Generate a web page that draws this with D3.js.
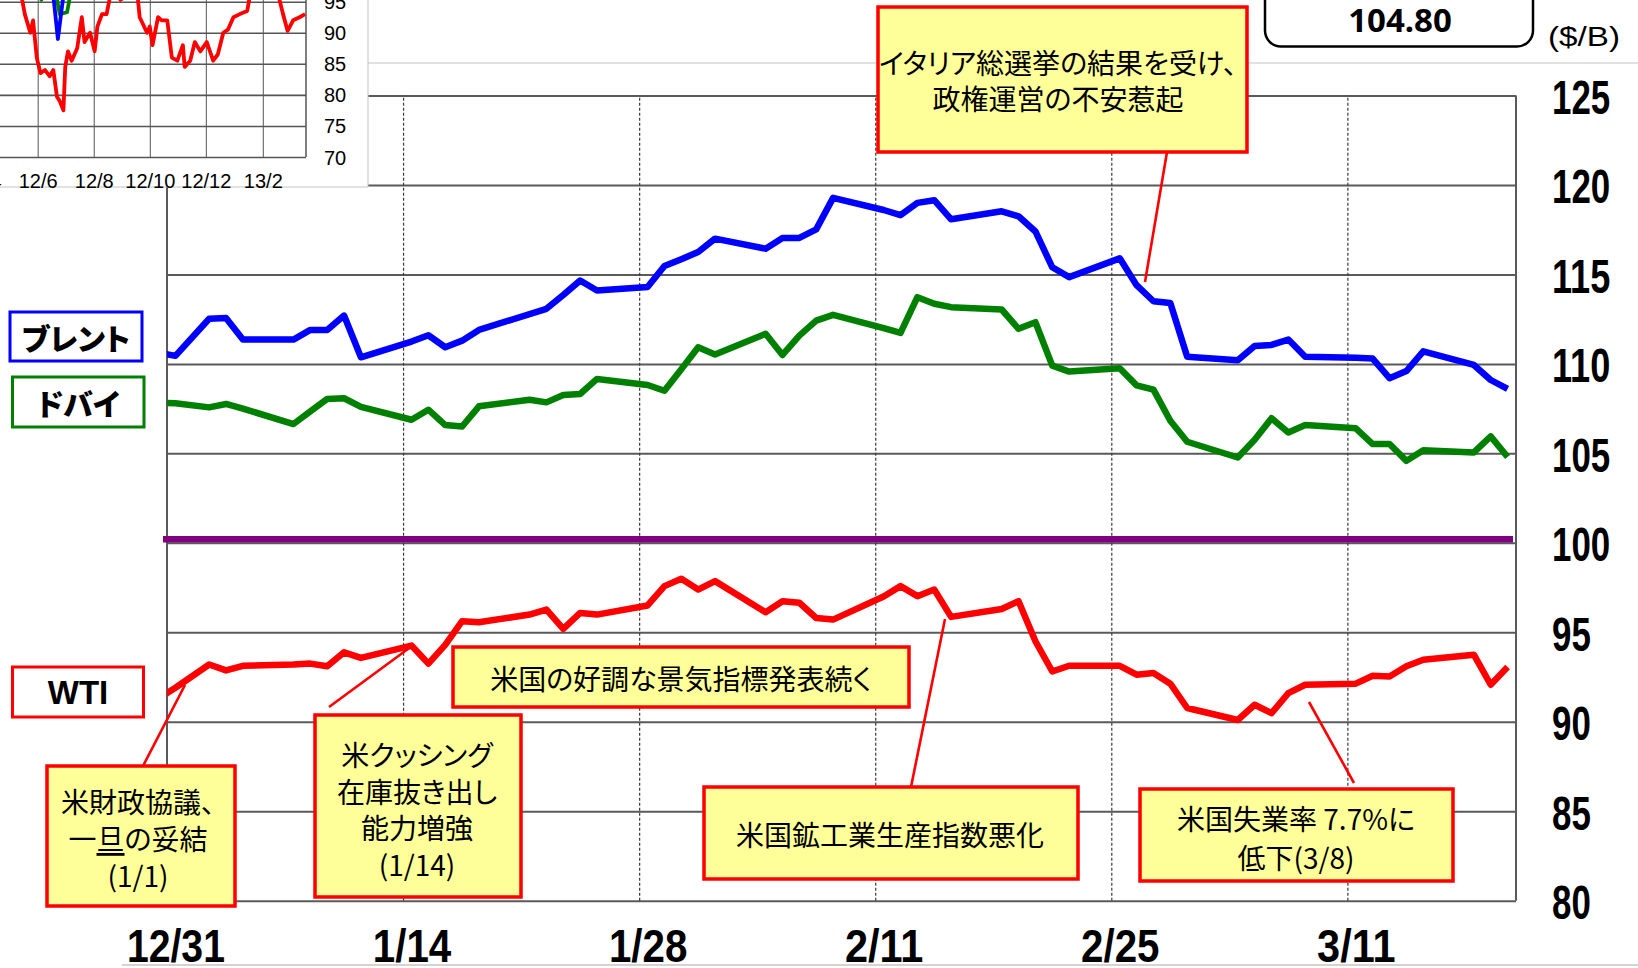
<!DOCTYPE html>
<html>
<head>
<meta charset="utf-8">
<script src="https://cdn.jsdelivr.net/npm/d3@7"></script>
<style>
body { margin: 0; background: #fff; overflow: hidden; }
svg { display: block; }
.jp { font-family: "Noto Sans CJK JP", "Noto Sans CJK SC", sans-serif; font-feature-settings: "palt"; }
.num { font-family: "Liberation Sans Narrow", "Liberation Sans", sans-serif; font-weight: bold; }
</style>
</head>
<body>
<svg id="chart" width="1638" height="968"></svg>
<script>
// ---- main chart data (daily closes, $/B) ----
const brentDates = ["2012-12-28","2012-12-31","2013-01-02","2013-01-03","2013-01-04","2013-01-07","2013-01-08","2013-01-09","2013-01-10","2013-01-11",
  "2013-01-14","2013-01-15","2013-01-16","2013-01-17","2013-01-18","2013-01-22","2013-01-23","2013-01-24","2013-01-25",
  "2013-01-28","2013-01-29","2013-01-30","2013-01-31","2013-02-01","2013-02-04","2013-02-05","2013-02-06","2013-02-07","2013-02-08",
  "2013-02-11","2013-02-12","2013-02-13","2013-02-14","2013-02-15","2013-02-18","2013-02-19","2013-02-20","2013-02-21","2013-02-22",
  "2013-02-25","2013-02-26","2013-02-27","2013-02-28","2013-03-01","2013-03-04","2013-03-05","2013-03-06","2013-03-07","2013-03-08",
  "2013-03-11","2013-03-12","2013-03-13","2013-03-14","2013-03-15","2013-03-18","2013-03-19","2013-03-20"];
const brentValues = [111.0,110.45,112.52,112.57,111.36,111.36,111.9,111.9,112.7,110.37,
  111.25,111.6,110.93,111.3,111.9,113.08,113.85,114.66,114.1,
  114.3,115.47,115.85,116.25,117.0,116.44,117.04,117.04,117.52,119.28,
  118.6,118.31,119.0,119.15,118.08,118.53,118.25,117.4,115.4,114.85,
  115.9,114.4,113.5,113.4,110.4,110.2,111.0,111.06,111.36,110.4,
  110.35,110.3,109.2,109.6,110.7,109.94,109.1,108.6];

const dubaiDates = ["2012-12-28","2012-12-31","2013-01-02","2013-01-03","2013-01-04","2013-01-07","2013-01-08","2013-01-09","2013-01-10","2013-01-11",
  "2013-01-14","2013-01-15","2013-01-16","2013-01-17","2013-01-18","2013-01-21","2013-01-22","2013-01-23","2013-01-24","2013-01-25",
  "2013-01-28","2013-01-29","2013-01-30","2013-01-31","2013-02-01","2013-02-04","2013-02-05","2013-02-06","2013-02-07","2013-02-08",
  "2013-02-11","2013-02-12","2013-02-13","2013-02-14","2013-02-15","2013-02-18","2013-02-19","2013-02-20","2013-02-21","2013-02-22",
  "2013-02-25","2013-02-26","2013-02-27","2013-02-28","2013-03-01","2013-03-04","2013-03-05","2013-03-06","2013-03-07","2013-03-08",
  "2013-03-11","2013-03-12","2013-03-13","2013-03-14","2013-03-15","2013-03-18","2013-03-19","2013-03-20"];
const dubaiValues = [107.9,107.8,107.57,107.76,107.5,106.64,107.35,108.04,108.08,107.6,
  106.88,107.44,106.58,106.5,107.63,108.0,107.85,108.26,108.32,109.16,
  108.82,108.5,109.7,110.93,110.53,111.68,110.5,111.58,112.42,112.74,
  112.0,111.73,113.73,113.36,113.17,113.04,111.96,112.33,109.9,109.57,
  109.76,108.8,108.56,106.82,105.65,104.77,105.76,106.96,106.17,106.58,
  106.4,105.52,105.52,104.58,105.18,105.05,105.95,104.80];

const wtiDates = dubaiDates;
const wtiValues = [90.1,91.9,93.2,92.87,93.13,93.2,93.25,93.1,93.88,93.57,
  94.26,93.25,94.3,95.62,95.56,95.99,96.27,95.19,96.08,95.99,
  96.5,97.58,97.99,97.39,97.86,96.12,96.74,96.65,95.8,95.71,
  97.0,97.58,97.02,97.39,95.86,96.3,96.74,94.5,92.81,93.13,
  93.13,92.63,92.73,92.13,90.77,90.1,90.95,90.48,91.6,92.07,
  92.13,92.57,92.53,93.1,93.47,93.75,92.07,93.06];

const xGridDates = ["2013-01-14","2013-01-28","2013-02-11","2013-02-25","2013-03-11"];
const xLabelDates = ["2012-12-31","2013-01-14","2013-01-28","2013-02-11","2013-02-25","2013-03-11"];
const xLabels = ["12/31","1/14","1/28","2/11","2/25","3/11"];
const yTicks = [80,85,90,95,100,105,110,115,120,125];

// ---- small long-range inset (top left, partly cut off) ----
const insetWtiDates = ["2012-04-21","2012-05-04","2012-05-13","2012-05-18","2012-05-24","2012-05-27","2012-05-31","2012-06-04","2012-06-09","2012-06-14",
  "2012-06-18","2012-06-22","2012-06-25","2012-06-29","2012-07-01","2012-07-04","2012-07-08","2012-07-14","2012-07-19","2012-07-22",
  "2012-07-28","2012-08-02","2012-08-05","2012-08-10","2012-08-15","2012-08-19","2012-08-24","2012-08-30","2012-09-06","2012-09-12",
  "2012-09-17","2012-09-20","2012-09-28","2012-10-01","2012-10-04","2012-10-10","2012-10-14","2012-10-20","2012-10-25","2012-10-31",
  "2012-11-06","2012-11-08","2012-11-14","2012-11-19","2012-11-25","2012-12-02","2012-12-09","2012-12-14","2012-12-20","2012-12-25",
  "2012-12-31","2013-01-07","2013-01-15","2013-01-18","2013-01-23","2013-02-07","2013-02-18","2013-02-23","2013-02-28","2013-03-06",
  "2013-03-13","2013-03-19"];
const insetWtiValues = [103,101,97,93,90,92,86,83.5,84,83,
  84,79.7,79,77.5,84.5,87,85.5,87.5,92.5,88.5,
  90,87,91,93,93,96,97,95.3,96,97,
  97,92.5,90,91,88,92.5,92,92,86,85.5,
  88,84.5,85.5,88.5,87,88.5,85.5,86.5,90,90.5,
  92.5,93,93.5,96,97,98,96,93,90.3,92,
  92.5,93];
const insetBrentDates = ["2012-06-09","2012-06-18","2012-06-23","2012-06-29","2012-07-06"];
const insetBrentValues = [99,96,89,96,100];
const insetDubaiDates = ["2012-05-24","2012-06-05","2012-06-10","2012-06-20","2012-06-25","2012-07-03","2012-07-07","2012-07-17"];
const insetDubaiValues = [100,95.3,99,97,93,93.3,96.5,100];
const insetTickDates = ["2012-04-01","2012-06-01","2012-08-01","2012-10-01","2012-12-01","2013-02-01"];
const insetTickLabels = ["12/4","12/6","12/8","12/10","12/12","13/2"];
const insetYTicks = [70,75,80,85,90,95];

// ---- texts ----
const latestValue = "104.80";
const unitLabel = "($/B)";
const legendLabels = ["ブレント", "ドバイ", "WTI"];
const noteTexts = [
  ["イタリア総選挙の結果を受け、", "政権運営の不安惹起"],
  ["米国の好調な景気指標発表続く"],
  ["米財政協議、", "一旦の妥結", "(1/1)"],
  ["米クッシング", "在庫抜き出し", "能力増強", "(1/14)"],
  ["米国鉱工業生産指数悪化"],
  ["米国失業率 7.7%に", "低下(3/8)"]
];

const parse = d3.utcParse("%Y-%m-%d");
const noon = s => d3.utcHour.offset(parse(s), 12);
const svg = d3.select("#chart");

// scales: each day is a slot, points sit in the middle of it
const pLeft = 167, pRight = 1516, pTop = 95.5, pBottom = 900.7;
const x = d3.scaleUtc().domain([parse("2012-12-31"), parse("2013-03-21")]).range([pLeft, pRight]);
const y = d3.scaleLinear().domain([80, 125]).range([pBottom, pTop]);

// page rules
svg.append("line").attr("x1", 368).attr("x2", 1638).attr("y1", 63).attr("y2", 63)
  .attr("stroke", "#c4c4c4").attr("stroke-width", 1.2);
svg.append("line").attr("x1", 122).attr("x2", 1638).attr("y1", 965).attr("y2", 965)
  .attr("stroke", "#c4c4c4").attr("stroke-width", 1.5);

// horizontal grid
svg.append("g").attr("transform", `translate(${pLeft},0)`)
  .call(d3.axisLeft(y).tickValues(yTicks).tickSize(-(pRight - pLeft)).tickFormat(""))
  .call(g => g.select(".domain").remove())
  .call(g => g.selectAll("line").attr("stroke", "#5a5a5a").attr("stroke-width", 2));

// vertical dashed grid
svg.append("g").attr("transform", `translate(0,${pBottom})`)
  .call(d3.axisBottom(x).tickValues(xGridDates.map(parse)).tickSize(-(pBottom - pTop)).tickFormat(""))
  .call(g => g.select(".domain").remove())
  .call(g => g.selectAll("line").attr("stroke", "#3a3a3a").attr("stroke-width", 1.2).attr("stroke-dasharray", "3,2"));

// frame sides
svg.append("line").attr("x1", pLeft).attr("x2", pLeft).attr("y1", pTop).attr("y2", pBottom).attr("stroke", "#5a5a5a").attr("stroke-width", 2);
svg.append("line").attr("x1", pRight).attr("x2", pRight).attr("y1", pTop).attr("y2", pBottom).attr("stroke", "#5a5a5a").attr("stroke-width", 2);

// 100 $ line
svg.append("line").attr("x1", pLeft - 4).attr("x2", pRight - 3).attr("y1", y(100) - 3.5).attr("y2", y(100) - 3.5)
  .attr("stroke", "#800080").attr("stroke-width", 6.5);

// series
svg.append("clipPath").attr("id", "plotClip").append("rect")
  .attr("x", pLeft).attr("y", pTop).attr("width", pRight - pLeft).attr("height", pBottom - pTop);
const line = d3.line().x(d => x(d.date)).y(d => y(d.v));
const series = [
  { dates: brentDates, values: brentValues, color: "#0000ff" },
  { dates: dubaiDates, values: dubaiValues, color: "#008000" },
  { dates: wtiDates, values: wtiValues, color: "#ff0000" }
];
series.forEach(s => {
  const pts = s.dates.map((d, i) => ({ date: noon(d), v: s.values[i] }));
  svg.append("path").datum(pts).attr("d", line).attr("clip-path", "url(#plotClip)")
    .attr("fill", "none").attr("stroke", s.color).attr("stroke-width", 6.5)
    .attr("stroke-linejoin", "round");
});

// y labels (right side)
svg.append("g").attr("transform", "translate(1552,0)")
  .call(d3.axisRight(y).tickValues(yTicks).tickSize(0).tickPadding(0))
  .call(g => g.select(".domain").remove())
  .call(g => g.selectAll("text").attr("class", "num").attr("font-size", 48).attr("fill", "#000")
    .attr("text-anchor", "start").attr("dy", null).attr("y", 18)
    .attr("textLength", function () { return this.textContent.length * 19.4; })
    .attr("lengthAdjust", "spacingAndGlyphs"));

// x labels
svg.append("g")
  .call(d3.axisBottom(x).tickValues(xLabelDates.map(noon)).tickSize(0).tickFormat((d, i) => xLabels[i]))
  .call(g => g.select(".domain").remove())
  .call(g => g.selectAll("text").attr("class", "num").attr("font-size", 46).attr("fill", "#000")
    .attr("dy", null).attr("y", 962)
    .attr("textLength", function () { return this.textContent.length * 19.6; })
    .attr("lengthAdjust", "spacingAndGlyphs"));

// ---- inset ----
const inset = svg.append("g");
inset.append("rect").attr("x", -2).attr("y", -2).attr("width", 370).attr("height", 189).attr("fill", "#fff");
inset.append("line").attr("x1", 368).attr("x2", 368).attr("y1", 0).attr("y2", 187).attr("stroke", "#c4c4c4");
inset.append("line").attr("x1", 0).attr("x2", 368).attr("y1", 187).attr("y2", 187).attr("stroke", "#c4c4c4");
const xi = d3.scaleUtc().domain([parse("2012-04-21"), parse("2013-03-20")]).range([0, 306]);
const yi = d3.scaleLinear().domain([70, 95]).range([157, 1.7]);
inset.append("g")
  .call(d3.axisLeft(yi).tickValues(insetYTicks).tickSize(-306).tickFormat(""))
  .call(g => g.select(".domain").remove())
  .call(g => g.selectAll("line").attr("stroke", "#555").attr("stroke-width", 1.6));
inset.append("g").attr("transform", "translate(0,157)")
  .call(d3.axisBottom(xi).tickValues(insetTickDates.map(parse)).tickSize(-160).tickFormat(""))
  .call(g => g.select(".domain").remove())
  .call(g => g.selectAll("line").attr("stroke", "#555").attr("stroke-width", 1));
inset.append("line").attr("x1", 306).attr("x2", 306).attr("y1", 0).attr("y2", 157).attr("stroke", "#555").attr("stroke-width", 1.5);
inset.append("clipPath").attr("id", "insetClip").append("rect").attr("x", 0).attr("y", 0).attr("width", 306).attr("height", 157);
const lineI = d3.line().x(d => xi(d.date)).y(d => yi(d.v));
[
  { dates: insetDubaiDates, values: insetDubaiValues, color: "#008000" },
  { dates: insetBrentDates, values: insetBrentValues, color: "#0000ff" },
  { dates: insetWtiDates, values: insetWtiValues, color: "#ff0000" }
].forEach(s => {
  const pts = s.dates.map((d, i) => ({ date: parse(d), v: s.values[i] }));
  inset.append("path").datum(pts).attr("d", lineI).attr("clip-path", "url(#insetClip)")
    .attr("fill", "none").attr("stroke", s.color).attr("stroke-width", 3.8).attr("stroke-linejoin", "round");
});
inset.append("g").attr("transform", "translate(324,0)")
  .call(d3.axisRight(yi).tickValues(insetYTicks).tickSize(0).tickPadding(0))
  .call(g => g.select(".domain").remove())
  .call(g => g.selectAll("text").attr("font-family", "Liberation Sans Narrow, Liberation Sans, sans-serif")
    .attr("font-size", 20).attr("fill", "#000").attr("text-anchor", "start").attr("dy", "0.35em"));
inset.append("g")
  .call(d3.axisBottom(xi).tickValues(insetTickDates.map(parse)).tickSize(0).tickFormat((d, i) => insetTickLabels[i]))
  .call(g => g.select(".domain").remove())
  .call(g => g.selectAll("text").attr("font-family", "Liberation Sans Narrow, Liberation Sans, sans-serif")
    .attr("font-size", 20).attr("fill", "#000").attr("dy", null).attr("y", 188));

// ---- latest value box & unit ----
svg.append("rect").attr("x", 1265).attr("y", -20).attr("width", 268).attr("height", 66.5).attr("rx", 16)
  .attr("fill", "#fff").attr("stroke", "#000").attr("stroke-width", 2.5);
svg.append("text").attr("x", 1400).attr("y", 32).attr("text-anchor", "middle")
  .attr("font-family", "Noto Sans, sans-serif").attr("font-weight", "bold").attr("font-size", 33)
  .text(latestValue);
svg.append("text").attr("x", 1548).attr("y", 46).attr("font-family", "Liberation Sans, sans-serif")
  .attr("font-size", 28).attr("textLength", 72).attr("lengthAdjust", "spacingAndGlyphs").text(unitLabel);

// ---- legend boxes ----
const legendBoxes = [
  { x: 10, y: 312, w: 132, h: 49, color: "#0000ff" },
  { x: 12.5, y: 377, w: 131.5, h: 50, color: "#008000" },
  { x: 12.5, y: 667, w: 131, h: 50, color: "#ff0000" }
];
legendBoxes.forEach((b, i) => {
  svg.append("rect").attr("x", b.x).attr("y", b.y).attr("width", b.w).attr("height", b.h)
    .attr("fill", "#fff").attr("stroke", b.color).attr("stroke-width", 3);
  const t = svg.append("text").attr("x", b.x + b.w / 2).attr("y", b.y + b.h / 2)
    .attr("text-anchor", "middle").attr("dominant-baseline", "central").attr("fill", "#000")
    .text(legendLabels[i]);
  if (i < 2) t.attr("class", "jp").attr("font-weight", 900).attr("font-size", 30);
  else t.attr("class", "num").attr("font-size", 33).attr("dy", "0.02em");
});

// ---- annotation callouts ----
const noteBoxes = [
  { x: 878, y: 7, w: 369, h: 145, cx: 1058, cy: 80, lh: 35.5, lead: [1167, 152, 1145, 282] },
  { x: 453, y: 647, w: 456, h: 60, cx: 681, cy: 678, lh: 37, lead: null },
  { x: 47, y: 766, w: 188, h: 140, cx: 138, cy: 838, lh: 37, lead: [143, 766, 185, 685] },
  { x: 315, y: 715, w: 206, h: 182, cx: 417, cy: 809, lh: 36.7, lead: [329, 707, 412, 646] },
  { x: 704, y: 787, w: 374, h: 92, cx: 890, cy: 834, lh: 37, lead: [911, 787, 945, 619] },
  { x: 1140, y: 789, w: 313, h: 92, cx: 1296, cy: 837.5, lh: 39, lead: [1354, 783, 1309, 702] }
];
noteBoxes.forEach((b, i) => {
  if (b.lead) {
    svg.append("line").attr("x1", b.lead[0]).attr("y1", b.lead[1]).attr("x2", b.lead[2]).attr("y2", b.lead[3])
      .attr("stroke", "#ff0000").attr("stroke-width", 2.6);
  }
  svg.append("rect").attr("x", b.x).attr("y", b.y).attr("width", b.w).attr("height", b.h)
    .attr("fill", "#ffff99").attr("stroke", "#ff0000").attr("stroke-width", 3.5);
  const lines = noteTexts[i];
  const y0 = b.cy - (lines.length - 1) * b.lh / 2;
  const t = svg.append("text").attr("class", "jp").attr("font-size", 28).attr("fill", "#000")
    .attr("text-anchor", "middle").attr("dominant-baseline", "central");
  lines.forEach((s, j) => {
    const ts = t.append("tspan").attr("x", b.cx).attr("y", y0 + j * b.lh).attr("dominant-baseline", "central");
    if (s === "一旦の妥結") {
      ts.append("tspan").text("一");
      ts.append("tspan").attr("text-decoration", "underline").text("旦");
      ts.append("tspan").text("の妥結");
    } else {
      ts.text(s);
    }
  });
});
</script>
</body>
</html>
